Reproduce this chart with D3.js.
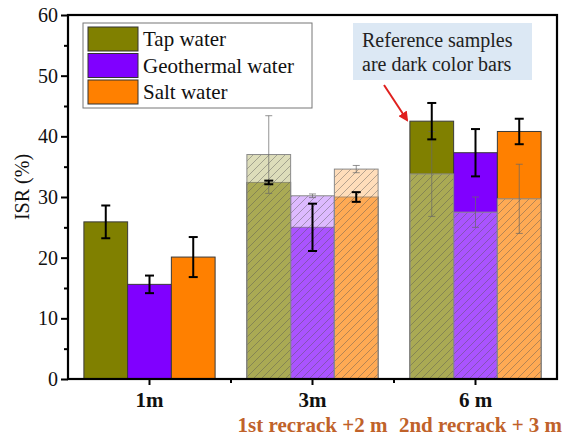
<!DOCTYPE html>
<html>
<head>
<meta charset="utf-8">
<script src="https://cdn.jsdelivr.net/npm/d3@7"></script>
<style>
  body { margin: 0; background: #fff; }
  svg text { font-family: "Liberation Serif", "DejaVu Serif", serif !important; }
</style>
</head>
<body>
<div id="chart"></div>
<script>
// Categories and series
var categories = ["1m", "3m", "6 m"];
var recrackLabels = ["", "1st recrack +2 m", "2nd recrack + 3 m"];
var seriesNames = ["Tap water", "Geothermal water", "Salt water"];
var seriesColors = ["#808000", "#8000ff", "#ff8000"];

// Reference samples (dark bars), one value per category
var tapRef = [25.9, 32.4, 42.5];
var geoRef = [15.6, 25.0, 37.3];
var saltRef = [20.1, 30.0, 40.8];
var tapRefErr = [2.7, 0.3, 3.0];
var geoRefErr = [1.45, 3.9, 3.9];
var saltRefErr = [3.3, 0.8, 2.1];

// Recracked samples (hatched bars), none at 1m
var tapRecrack = [null, 37.0, 33.8];
var geoRecrack = [null, 30.2, 27.5];
var saltRecrack = [null, 34.6, 29.7];
var tapRecrackErr = [null, 6.4, 7.0];
var geoRecrackErr = [null, 0.3, 2.5];
var saltRecrackErr = [null, 0.6, 5.7];

var yTicks = [0, 10, 20, 30, 40, 50, 60];
var yMinorTicks = [5, 15, 25, 35, 45, 55];

var W = 569, H = 439;
var margin = {left: 68, right: 12, top: 15, bottom: 60};

var svg = d3.select("#chart").append("svg")
    .attr("width", W)
    .attr("height", H);

var x = d3.scaleBand()
    .domain(categories)
    .range([margin.left, W - margin.right])
    .paddingInner(0)
    .paddingOuter(0);

var groupW = x.bandwidth() * 0.805;
var xs = d3.scaleBand()
    .domain(seriesNames)
    .range([0, groupW]);

var y = d3.scaleLinear()
    .domain([0, 60])
    .range([H - margin.bottom, margin.top]);

function barX(ci, si) {
    return x(categories[ci]) + (x.bandwidth() - groupW) / 2 + xs(seriesNames[si]);
}

// Build flat records
var refVals = [tapRef, geoRef, saltRef];
var refErrs = [tapRefErr, geoRefErr, saltRefErr];
var recVals = [tapRecrack, geoRecrack, saltRecrack];
var recErrs = [tapRecrackErr, geoRecrackErr, saltRecrackErr];

var refBars = [], recBars = [];
seriesNames.forEach(function(s, si) {
    categories.forEach(function(c, ci) {
        refBars.push({si: si, ci: ci, v: refVals[si][ci], e: refErrs[si][ci]});
        if (recVals[si][ci] != null)
            recBars.push({si: si, ci: ci, v: recVals[si][ci], e: recErrs[si][ci]});
    });
});

// Hatch pattern
var defs = svg.append("defs");
defs.append("pattern")
    .attr("id", "hatch")
    .attr("patternUnits", "userSpaceOnUse")
    .attr("width", 8)
    .attr("height", 8)
    .append("path")
    .attr("d", "M0,8 L8,0 M-2,2 L2,-2 M6,10 L10,6")
    .attr("stroke", "#555")
    .attr("stroke-opacity", 0.55)
    .attr("stroke-width", 0.8);

// Reference bars
svg.append("g").selectAll("rect")
    .data(refBars)
    .join("rect")
    .attr("x", function(d) { return barX(d.ci, d.si); })
    .attr("width", xs.bandwidth())
    .attr("y", function(d) { return y(d.v); })
    .attr("height", function(d) { return y(0) - y(d.v); })
    .attr("fill", function(d) { return seriesColors[d.si]; })
    .attr("stroke", "#3a3a3a")
    .attr("stroke-width", 1);

// Recrack overlay bars (translucent + hatch)
var ov = svg.append("g");
ov.selectAll("rect.fill")
    .data(recBars)
    .join("rect")
    .attr("class", "fill")
    .attr("x", function(d) { return barX(d.ci, d.si); })
    .attr("width", xs.bandwidth())
    .attr("y", function(d) { return y(d.v); })
    .attr("height", function(d) { return y(0) - y(d.v); })
    .attr("fill", function(d) { return d3.interpolateRgb(seriesColors[d.si], "#fff")(0.55); })
    .attr("fill-opacity", 0.6);

ov.selectAll("rect.hatch")
    .data(recBars)
    .join("rect")
    .attr("class", "hatch")
    .attr("x", function(d) { return barX(d.ci, d.si); })
    .attr("width", xs.bandwidth())
    .attr("y", function(d) { return y(d.v); })
    .attr("height", function(d) { return y(0) - y(d.v); })
    .attr("fill", "url(#hatch)")
    .attr("stroke", "#8a8a8a")
    .attr("stroke-width", 1);

// Error bars
function errorBars(data, color, width, capW, opacity) {
    var g = svg.append("g")
        .attr("stroke", color)
        .attr("stroke-width", width)
        .attr("stroke-opacity", opacity);
    data.forEach(function(d) {
        var cx = barX(d.ci, d.si) + xs.bandwidth() / 2;
        g.append("line")
            .attr("x1", cx).attr("x2", cx)
            .attr("y1", y(d.v + d.e)).attr("y2", y(d.v - d.e));
        [d.v + d.e, d.v - d.e].forEach(function(v) {
            g.append("line")
                .attr("x1", cx - capW / 2).attr("x2", cx + capW / 2)
                .attr("y1", y(v)).attr("y2", y(v));
        });
    });
}
errorBars(recBars, "#666", 1, 7, 0.7);
errorBars(refBars, "#000", 2, 9, 1);

// Axes
var yAxis = svg.append("g")
    .attr("transform", "translate(" + margin.left + ",0)")
    .call(d3.axisLeft(y).tickValues(yTicks).tickSize(7).tickSizeOuter(0).tickPadding(3));
yAxis.selectAll("text").attr("font-size", 20).attr("fill", "#111");
svg.append("g")
    .attr("transform", "translate(" + margin.left + ",0)")
    .call(d3.axisLeft(y).tickValues(yMinorTicks).tickSize(4).tickFormat(""));

svg.append("g")
    .attr("transform", "translate(0," + y(0) + ")")
    .call(d3.axisBottom(x).tickSize(6).tickSizeOuter(0).tickFormat(""));
var boundaries = categories.map(function(c) { return x(c); }).slice(1);
svg.append("g").selectAll("line")
    .data(boundaries)
    .join("line")
    .attr("x1", function(d) { return d; })
    .attr("x2", function(d) { return d; })
    .attr("y1", y(0))
    .attr("y2", y(0) + 4)
    .attr("stroke", "#000")
    .attr("stroke-width", 2);

svg.selectAll(".domain").remove();
svg.selectAll(".tick line").attr("stroke-width", 2);

// Frame
svg.append("rect")
    .attr("x", margin.left)
    .attr("y", margin.top)
    .attr("width", W - margin.right - margin.left)
    .attr("height", y(0) - margin.top)
    .attr("fill", "none")
    .attr("stroke", "#000")
    .attr("stroke-width", 2.2);

// Category labels
svg.append("g").selectAll("text")
    .data(categories)
    .join("text")
    .attr("x", function(d) { return x(d) + x.bandwidth() / 2; })
    .attr("y", 407)
    .attr("text-anchor", "middle")
    .attr("font-size", 21)
    .attr("font-weight", "bold")
    .attr("fill", "#111")
    .text(function(d) { return d; });

svg.append("g").selectAll("text")
    .data(recrackLabels)
    .join("text")
    .attr("x", function(d, i) { return x(categories[i]) + x.bandwidth() / 2 + (i === 2 ? 5 : 0); })
    .attr("y", 432)
    .attr("text-anchor", "middle")
    .attr("font-size", 21)
    .attr("font-weight", "bold")
    .attr("fill", "#c0622a")
    .text(function(d) { return d; });

// Y label
svg.append("text")
    .attr("transform", "translate(29,187) rotate(-90)")
    .attr("text-anchor", "middle")
    .attr("font-size", 20)
    .attr("fill", "#111")
    .text("ISR (%)");

// Legend
var legend = svg.append("g");
legend.append("rect")
    .attr("x", 83).attr("y", 23)
    .attr("width", 229).attr("height", 85)
    .attr("fill", "#fff")
    .attr("stroke", "#777")
    .attr("stroke-width", 1);
var li = legend.selectAll("g.item")
    .data(seriesNames)
    .join("g")
    .attr("class", "item")
    .attr("transform", function(d, i) { return "translate(88," + (27 + i * 26.5) + ")"; });
li.append("rect")
    .attr("width", 50).attr("height", 24)
    .attr("fill", function(d, i) { return seriesColors[i]; })
    .attr("stroke", "#333")
    .attr("stroke-width", 1);
li.append("text")
    .attr("x", 55).attr("y", 19)
    .attr("font-size", 21)
    .attr("fill", "#111")
    .text(function(d) { return d; });

// Annotation
svg.append("rect")
    .attr("x", 353).attr("y", 23)
    .attr("width", 179).attr("height", 57)
    .attr("fill", "#dce8f4");
svg.append("text")
    .attr("x", 362).attr("y", 47)
    .attr("font-size", 20)
    .attr("fill", "#222")
    .text("Reference samples");
svg.append("text")
    .attr("x", 362).attr("y", 71)
    .attr("font-size", 20)
    .attr("fill", "#222")
    .text("are dark color bars");

defs.append("marker")
    .attr("id", "arrow")
    .attr("viewBox", "0 0 10 10")
    .attr("refX", 8).attr("refY", 5)
    .attr("markerWidth", 5).attr("markerHeight", 5)
    .attr("orient", "auto")
    .append("path")
    .attr("d", "M0,0 L10,5 L0,10 Z")
    .attr("fill", "#e0201e");
svg.append("line")
    .attr("x1", 384).attr("y1", 85)
    .attr("x2", 407).attr("y2", 120)
    .attr("stroke", "#e0201e")
    .attr("stroke-width", 2)
    .attr("marker-end", "url(#arrow)");
</script>
</body>
</html>
